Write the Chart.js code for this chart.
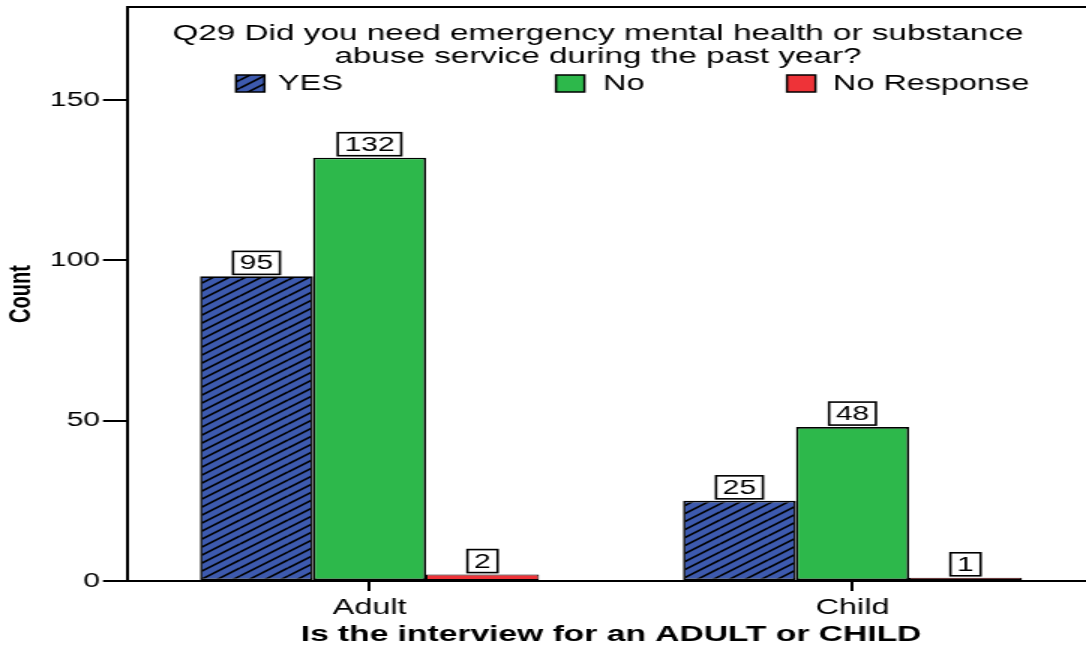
<!DOCTYPE html>
<html>
<head>
<meta charset="utf-8">
<script src="https://cdn.jsdelivr.net/npm/chart.js@4.4.1/dist/chart.umd.min.js"></script>
<style>
  html, body { margin: 0; padding: 0; background: #fff; overflow: hidden; width: 1086px; height: 649px; }
  #wrap { position: absolute; left: 0; top: 0; transform-origin: 0 0; }
</style>
</head>
<body>
<div id="wrap"><canvas id="c"></canvas></div>
<script>
// ---- data ----
const categories = ['Adult', 'Child'];
const seriesLabels = ['YES', 'No', 'No Response'];
const yesValues = [95, 25];
const noValues = [132, 48];
const noResponseValues = [2, 1];
const yTickValues = [0, 50, 100, 150];
const chartTitle = ['Q29 Did you need emergency mental health or substance', 'abuse service during the past year?'];
const xAxisTitle = 'Is the interview for an ADULT or CHILD';
const yAxisTitle = 'Count';

// ---- styling ----
const S = 1.5;               // horizontal stretch of the reference picture
const W = Math.ceil(1100 / S);
const H = 649;
const BLUE = '#3d5aae';
const GREEN = '#2db84b';
const RED = '#ee3338';
const FONT = '"Liberation Sans", Arial, sans-serif';

const wrap = document.getElementById('wrap');
wrap.style.transform = 'scaleX(' + S + ')';
const canvas = document.getElementById('c');
canvas.width = W; canvas.height = H;

function makeHatch() {
  const c = document.createElement('canvas');
  c.width = 32; c.height = 24;
  const x = c.getContext('2d');
  x.fillStyle = BLUE; x.fillRect(0, 0, 32, 24);
  x.strokeStyle = '#000'; x.lineWidth = 1.6;
  for (let k = -3; k <= 3; k++) {
    x.beginPath(); x.moveTo(0, 24 + 8 * k); x.lineTo(32, 8 * k); x.stroke();
  }
  return x.createPattern(c, 'repeat');
}
const hatch = makeHatch();

const frameLegend = {
  id: 'frameLegend',
  afterDraw(chart) {
    const ctx = chart.ctx, a = chart.chartArea;
    ctx.save();
    ctx.strokeStyle = '#000'; ctx.lineWidth = 2;
    ctx.beginPath(); ctx.moveTo(a.left, a.top); ctx.lineTo(a.right + 2, a.top); ctx.stroke();
    ctx.fillStyle = '#000';
    ctx.font = '22.2px ' + FONT;
    ctx.textAlign = 'center'; ctx.textBaseline = 'middle';
    const cx = 598 / S;
    ctx.fillText(chartTitle[0], cx, 34);
    ctx.fillText(chartTitle[1], cx, 57);
    ctx.font = '21.6px ' + FONT;
    const boxOffs = [72, 285.3, 439.3];
    const textOffs = [100, 316.7, 470];
    chart.data.datasets.forEach((ds, i) => {
      const bx = a.left + boxOffs[i];
      ctx.fillStyle = ds.backgroundColor;
      ctx.fillRect(bx, 75, 19, 17);
      ctx.lineWidth = 1.5; ctx.strokeStyle = '#000';
      ctx.strokeRect(bx, 75, 19, 17);
      ctx.fillStyle = '#000';
      ctx.textAlign = 'left';
      ctx.fillText(ds.label, a.left + textOffs[i], 84);
    });
    ctx.restore();
  }
};

const barLabels = {
  id: 'barLabels',
  afterDatasetsDraw(chart) {
    const ctx = chart.ctx;
    ctx.save();
    ctx.font = '20px ' + FONT;
    ctx.textAlign = 'center'; ctx.textBaseline = 'middle';
    chart.data.datasets.forEach((ds, i) => {
      chart.getDatasetMeta(i).data.forEach((bar, j) => {
        const t = String(ds.data[j]);
        const w = ctx.measureText(t).width + 9;
        const h = 23;
        const bottom = bar.y - 2;
        ctx.fillStyle = '#fff';
        ctx.fillRect(bar.x - w / 2, bottom - h, w, h);
        ctx.strokeStyle = '#000'; ctx.lineWidth = 1.6;
        ctx.strokeRect(bar.x - w / 2, bottom - h, w, h);
        ctx.fillStyle = '#000';
        ctx.fillText(t, bar.x, bottom - h / 2 + 1);
      });
    });
    ctx.restore();
  }
};

new Chart(canvas, {
  type: 'bar',
  data: {
    labels: categories,
    datasets: [
      { label: seriesLabels[0], data: yesValues, backgroundColor: hatch },
      { label: seriesLabels[1], data: noValues, backgroundColor: GREEN },
      { label: seriesLabels[2], data: noResponseValues, backgroundColor: RED, borderWidth: 1 }
    ]
  },
  options: {
    responsive: false,
    animation: false,
    devicePixelRatio: 1,
    layout: { padding: { top: 7, right: W - 1094 / S, left: 0, bottom: 0 } },
    datasets: { bar: { borderColor: '#000', borderWidth: 1.6, borderSkipped: false, categoryPercentage: 0.702, barPercentage: 1 } },
    plugins: { legend: { display: false }, tooltip: { enabled: false }, title: { display: false } },
    scales: {
      x: {
        offset: true,
        grid: { offset: false, drawOnChartArea: false, tickLength: 10, color: '#000', lineWidth: 2 },
        border: { display: true, color: '#000', width: 2 },
        ticks: { color: '#000', font: { family: FONT, size: 21.6 }, padding: 4, maxRotation: 0 },
        title: { display: true, text: xAxisTitle, color: '#000', font: { family: FONT, size: 22.4, weight: 'bold' }, padding: { top: 0, bottom: 1 } },
        afterFit(s) { s.height = 649 - 581; s.paddingLeft = 0; s.paddingRight = 0; }
      },
      y: {
        min: 0, max: 179,
        afterBuildTicks(s) { s.ticks = yTickValues.map(v => ({ value: v })); },
        grid: { drawOnChartArea: false, tickLength: 25 / S, color: '#000', lineWidth: 2 },
        border: { display: true, color: '#000', width: 2 },
        ticks: { color: '#000', font: { family: FONT, size: 20 }, padding: 2 },
        title: { display: true, text: yAxisTitle, color: '#000', font: { family: FONT, size: 20, weight: 'bold' }, padding: { top: 2, bottom: 0 } },
        afterFit(s) { s.width = 128 / S; s.paddingTop = 0; s.paddingBottom = 0; }
      }
    }
  },
  plugins: [frameLegend, barLabels]
});
</script>
</body>
</html>
